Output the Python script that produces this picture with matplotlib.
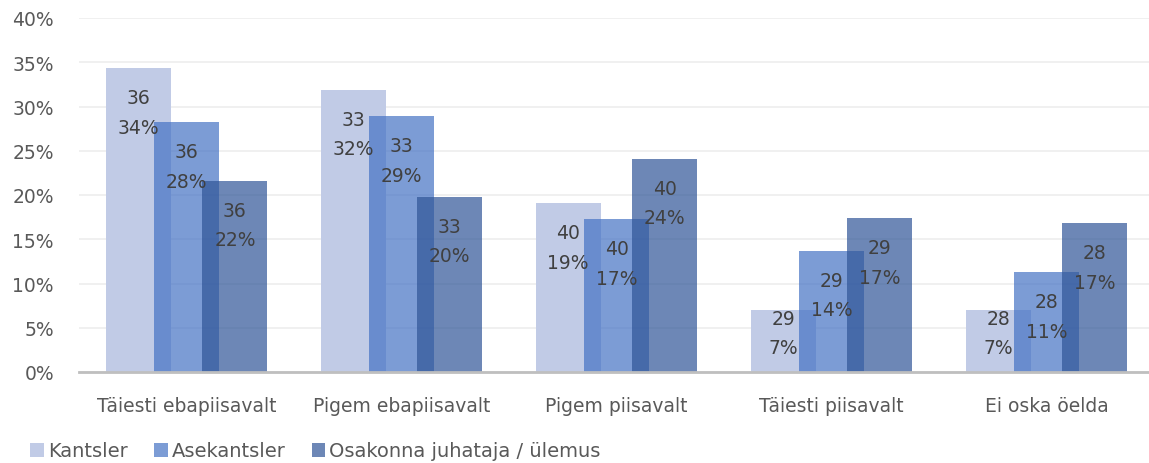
import matplotlib.pyplot as plt
from matplotlib.patches import Patch
import numpy as np

plt.rcParams['font.family'] = ['DejaVu Sans']

categories = ['Täiesti ebapiisavalt', 'Pigem ebapiisavalt', 'Pigem piisavalt',
              'Täiesti piisavalt', 'Ei oska öelda']
series = ['Kantsler', 'Asekantsler', 'Osakonna juhataja / ülemus']

# share of answers (%) per group
kantsler = [34.3, 31.9, 19.1, 7.0, 7.0]
asekantsler = [28.2, 28.9, 17.3, 13.7, 11.3]
osakonna = [21.6, 19.8, 24.1, 17.4, 16.8]

# number of respondents per group
n_kantsler = [36, 33, 40, 29, 28]
n_asekantsler = [36, 33, 40, 29, 28]
n_osakonna = [36, 33, 40, 29, 28]

values = [kantsler, asekantsler, osakonna]
counts = [n_kantsler, n_asekantsler, n_osakonna]
colors = [('#c1cbe6', 1.0), ('#4472c4', 0.7), ('#2f5597', 0.7)]
offsets = [-0.225, 0.0, 0.225]
width = 0.302

fig = plt.figure(figsize=(11.49, 4.64), dpi=100)
ax = fig.add_axes([79/1149, 91/464, 1075/1149, 354/464])

x = np.arange(len(categories))
for vals, (c, a), off in zip(values, colors, offsets):
	ax.bar(x + off, vals, width, color=c, alpha=a, zorder=2, linewidth=0)

for vals, ns, off in zip(values, counts, offsets):
	for i, (v, n) in enumerate(zip(vals, ns)):
		y = max(v - 5.0, 4.4)
		ax.text(i + off, y, '%d\n%d%%' % (n, round(v)), ha='center', va='center',
				fontsize=13.5, color='#404040', linespacing=1.72, zorder=5)

ax.set_xlim(-0.5, 4.5)
ax.set_ylim(0, 40)
ax.set_yticks(np.arange(0, 41, 5))
ax.set_yticklabels(['%d%%' % t for t in range(0, 41, 5)])
ax.set_xticks(x)
ax.set_xticklabels(categories)
ax.tick_params(axis='both', length=0, labelsize=13.5, labelcolor='#595959')
ax.tick_params(axis='y', pad=18)
ax.tick_params(axis='x', pad=17)
ax.grid(axis='y', color='#ededed', linewidth=1.2, zorder=0)
for s in ['top', 'right', 'left']:
	ax.spines[s].set_visible(False)
ax.spines['bottom'].set_color('#bfbfbf')
ax.spines['bottom'].set_linewidth(2)
ax.spines['bottom'].set_zorder(4)

handles = [Patch(facecolor=c, alpha=a, linewidth=0) for c, a in colors]
fig.legend(handles, series, loc='center left', bbox_to_anchor=(0.018, (464 - 452) / 464),
		   ncol=3, frameon=False, fontsize=14, labelcolor='#595959', handlelength=0.7,
		   handleheight=0.7, handletextpad=0.2, columnspacing=1.35, borderpad=0)

plt.savefig('out.png')
